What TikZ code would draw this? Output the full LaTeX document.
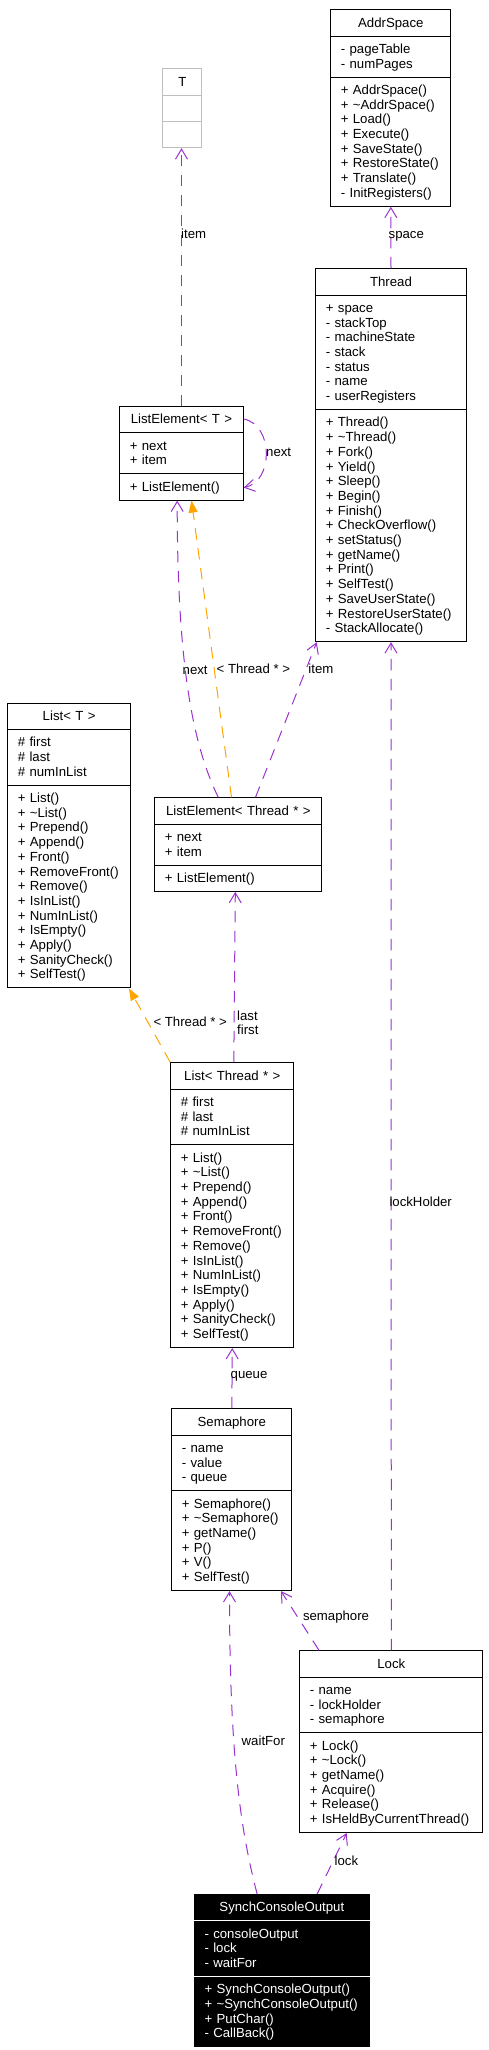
\documentclass[tikz,border=0pt]{standalone}
\usepackage{fontspec}
\setmainfont{Liberation Sans}
\usetikzlibrary{shapes.multipart,arrows.meta}
\setlength{\parindent}{0pt}
\newcommand{\cstrut}{\rule[-3.2pt]{0pt}{14.7pt}}
\newcommand{\ctitle}[1]{\cstrut\hfill #1\hfill\cstrut}
\definecolor{edgepurple}{HTML}{9A32CD}
\definecolor{tmplorange}{HTML}{FFA500}
\definecolor{boxgray}{HTML}{BFBFBF}

\begin{document}
\begin{tikzpicture}[x=1pt, y=-1pt,
    every node/.style={font=\fontsize{13.2pt}{14.7pt}\selectfont},
    classbox/.style={rectangle split, rectangle split parts=3, draw=black, line width=1pt,
      anchor=north west, inner xsep=10pt, inner ysep=5.3pt, align=left},
    uses/.style={draw=edgepurple, line width=1pt, dash pattern=on 11.5pt off 8.5pt,
      -{Straight Barb[length=10pt,width=12pt]}},
    tmpl/.style={draw=tmplorange, line width=1pt, dash pattern=on 11.5pt off 8.5pt,
      -{Triangle[length=12pt,width=9pt]}},
    lbl/.style={inner sep=0pt, anchor=west, text height=9.5pt, text depth=0pt}]
    \useasboundingbox (0,0) rectangle (488,2050);

    % classes
    \node[classbox, draw=boxgray, text width=19pt] (t) at (162.3,68.3)
      {\ctitle{T} \nodepart{two}\cstrut \nodepart{three}\cstrut};
    \node[classbox, text width=100pt] (addr) at (330.3,9.3)
      {\ctitle{AddrSpace}
       \nodepart{two}\cstrut - pageTable\\ - numPages\cstrut
       \nodepart{three}\cstrut + AddrSpace()\\ + \textasciitilde AddrSpace()\\ + Load()\\ + Execute()\\
       + SaveState()\\ + RestoreState()\\ + Translate()\\ - InitRegisters()\cstrut};
    \node[classbox, text width=130.4pt] (thr) at (315.3,268.3)
      {\ctitle{Thread}
       \nodepart{two}\cstrut + space\\ - stackTop\\ - machineState\\ - stack\\ - status\\ - name\\ - userRegisters\cstrut
       \nodepart{three}\cstrut + Thread()\\ + \textasciitilde Thread()\\ + Fork()\\ + Yield()\\ + Sleep()\\ + Begin()\\
       + Finish()\\ + CheckOverflow()\\ + setStatus()\\ + getName()\\ + Print()\\ + SelfTest()\\
       + SaveUserState()\\ + RestoreUserState()\\ - StackAllocate()\cstrut};
    \node[classbox, text width=103.4pt] (le) at (119.3,406)
      {\ctitle{ListElement< T >}
       \nodepart{two}\cstrut + next\\ + item\cstrut
       \nodepart{three}\cstrut + ListElement()\cstrut};
    \node[classbox, text width=102.7pt] (lst) at (7.3,702.7)
      {\ctitle{List< T >}
       \nodepart{two}\cstrut \# first\\ \# last\\ \# numInList\cstrut
       \nodepart{three}\cstrut + List()\\ + \textasciitilde List()\\ + Prepend()\\ + Append()\\ + Front()\\
       + RemoveFront()\\ + Remove()\\ + IsInList()\\ + NumInList()\\ + IsEmpty()\\ + Apply()\\
       + SanityCheck()\\ + SelfTest()\cstrut};
    \node[classbox, text width=147pt] (leth) at (154.3,797.3)
      {\ctitle{ListElement< Thread * >}
       \nodepart{two}\cstrut + next\\ + item\cstrut
       \nodepart{three}\cstrut + ListElement()\cstrut};
    \node[classbox, text width=103pt] (lsth) at (170.3,1062.3)
      {\ctitle{List< Thread * >}
       \nodepart{two}\cstrut \# first\\ \# last\\ \# numInList\cstrut
       \nodepart{three}\cstrut + List()\\ + \textasciitilde List()\\ + Prepend()\\ + Append()\\ + Front()\\
       + RemoveFront()\\ + Remove()\\ + IsInList()\\ + NumInList()\\ + IsEmpty()\\ + Apply()\\
       + SanityCheck()\\ + SelfTest()\cstrut};
    \node[classbox, text width=100pt] (sem) at (171.3,1408.3)
      {\ctitle{Semaphore}
       \nodepart{two}\cstrut - name\\ - value\\ - queue\cstrut
       \nodepart{three}\cstrut + Semaphore()\\ + \textasciitilde Semaphore()\\ + getName()\\ + P()\\ + V()\\
       + SelfTest()\cstrut};
    \node[classbox, text width=163pt] (lock) at (299.3,1650.3)
      {\ctitle{Lock}
       \nodepart{two}\cstrut - name\\ - lockHolder\\ - semaphore\cstrut
       \nodepart{three}\cstrut + Lock()\\ + \textasciitilde Lock()\\ + getName()\\ + Acquire()\\ + Release()\\
       + IsHeldByCurrentThread()\cstrut};
    \node[classbox, text width=154.7pt, fill=black, text=white, rectangle split draw splits=false] (sco) at (194,1894)
      {\ctitle{SynchConsoleOutput}
       \nodepart{two}\cstrut - consoleOutput\\ - lock\\ - waitFor\cstrut
       \nodepart{three}\cstrut + SynchConsoleOutput()\\ + \textasciitilde SynchConsoleOutput()\\ + PutChar()\\
       - CallBack()\cstrut};
    \draw[white, line width=1pt] (sco.text split west) -- (sco.text split east)
      (sco.two split west) -- (sco.two split east);

    % relations
    \draw[uses] (le.north) -- (le.north |- t.south);
    \draw[uses] (thr.north) -- (addr.south);
    \draw[uses] ([yshift=-13pt]le.north east) .. controls +(30,6) and +(30,-6) .. ([yshift=13pt]le.south east);
    \draw[uses] ([xshift=-20pt]leth.north) .. controls +(-28,-57) and +(0,153) .. ([xshift=-4.3pt]le.south);
    \draw[tmpl] ([xshift=-6.8pt]leth.north) -- ([xshift=10pt]le.south);
    \draw[uses] ([xshift=17.2pt]leth.north) -- ([xshift=1.4pt]thr.south west);
    \draw[uses] ([xshift=1.5pt]lsth.north) -- ([xshift=-3pt]leth.south);
    \draw[tmpl] (lsth.north west) -- ([xshift=-2pt]lst.south east);
    \draw[uses] (sem.north) -- (lsth.south);
    \draw[uses] (lock.north) -- (thr.south);
    \draw[uses] ([xshift=19.7pt]lock.north west) -- ([xshift=-11.3pt]sem.south east);
    \draw[uses] ([xshift=-24.7pt]sco.north) .. controls +(-16.7,-64) and +(0,164) .. ([xshift=-2.3pt]sem.south);
    \draw[uses] ([xshift=35.3pt]sco.north) -- ([xshift=47.4pt]lock.south west);

    % labels
    \node[lbl] (l-item) at (181,233.5) {item};
    \node[lbl] (l-space) at (388.5,233.5) {space};
    \node[lbl] (l-next) at (266,452) {next};
    \node[lbl] (l-next2) at (182.5,669.3) {next};
    \node[lbl] (l-inst) at (216.5,669) {< Thread * >};
    \node[lbl] (l-item2) at (308.2,669) {item};
    \node[inner sep=0pt, anchor=north west, align=left] (l-lf) at (237,1010.3) {last\\first};
    \node[lbl] (l-inst2) at (153.3,1021.8) {< Thread * >};
    \node[lbl] (l-holder) at (389.3,1202) {lockHolder};
    \node[lbl] (l-queue) at (230.5,1374) {queue};
    \node[lbl] (l-sem) at (302.8,1616) {semaphore};
    \node[lbl] (l-wait) at (241.5,1740.3) {waitFor};
    \node[lbl] (l-lock) at (334.5,1861) {lock};
\end{tikzpicture}
\end{document}
